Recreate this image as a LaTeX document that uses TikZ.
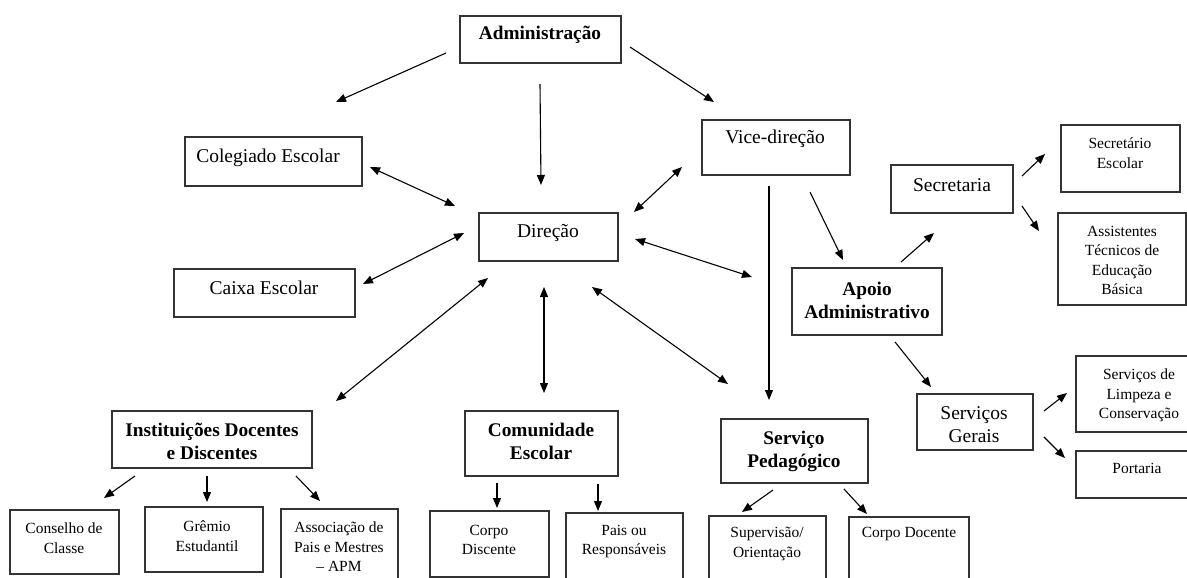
\documentclass[tikz,border=0pt]{standalone}
\usepackage{fontspec}
\setmainfont{Liberation Serif}
\usetikzlibrary{arrows.meta}
\tikzset{
  box/.style={draw=black!80, line width=1.3pt, rectangle, inner sep=0pt, outer sep=0pt, anchor=north west},
  nt/.style={align=center, inner sep=0pt, font=\fontsize{19.5}{23}\selectfont},
  bt/.style={align=center, inner sep=0pt, font=\fontsize{19.3}{23}\selectfont\bfseries},
  st/.style={align=center, inner sep=0pt, font=\fontsize{15.5}{19.5}\selectfont},
  arr/.style={draw=black, line width=1.1pt, -{Triangle[length=10pt,width=8pt]}},
  darr/.style={draw=black, line width=1.1pt, {Triangle[length=10pt,width=8pt]}-{Triangle[length=10pt,width=8pt]}}
}
\newcommand{\mkbox}[5]{\node[box, minimum width={(#4-#2)*1pt}, minimum height={(#5-#3)*1pt}] (#1) at (#2,#3) {};}
\begin{document}
\begin{tikzpicture}[x=1pt,y=-1pt]
\path[use as bounding box, fill=white] (0,0) rectangle (1187,578);
\clip (0,0) rectangle (1187,578);
% boxes
\mkbox{adm}{460}{16}{621}{63}
\mkbox{col}{185}{137}{362}{186}
\mkbox{dir}{479}{213}{618}{261}
\mkbox{cai}{174}{269}{355}{317}
\mkbox{vic}{702}{120}{850}{175}
\mkbox{sec}{891}{165}{1013}{213}
\mkbox{ses}{1061}{125}{1180}{192}
\mkbox{ast}{1058}{213}{1186}{305}
\mkbox{apo}{792}{268}{942}{335}
\mkbox{seg}{917}{394}{1033}{450}
\mkbox{lim}{1076}{356}{1192}{432}
\mkbox{por}{1076}{451}{1192}{498}
\mkbox{spd}{721}{419}{868}{483}
\mkbox{sup}{709}{516}{826}{600}
\mkbox{cdo}{849}{517}{969}{600}
\mkbox{ins}{112}{411}{312}{468}
\mkbox{com}{465}{411}{618}{476}
\mkbox{con}{10}{510}{119}{574}
\mkbox{gre}{145}{507}{263}{572}
\mkbox{apm}{281}{509}{398}{600}
\mkbox{cdi}{430}{511}{549}{577}
\mkbox{pai}{566}{513}{683}{600}
% texts
\node[bt] (adm-t) at (540,35) {Administração};
\node[nt] (col-t) at (268,158) {Colegiado Escolar};
\node[nt] (dir-t) at (548,233) {Direção};
\node[nt] (cai-t) at (264,288) {Caixa Escolar};
\node[nt] (vic-t) at (775,139) {Vice-direção};
\node[nt] (sec-t) at (952,185) {Secretaria};
\node[st] (ses-t) at (1120,153) {Secretário\\Escolar};
\node[st] (ast-t) at (1122,260.5) {Assistentes\\Técnicos de\\Educação\\Básica};
\node[bt] (apo-t) at (867,300) {Apoio\\Administrativo};
\node[nt] (seg-t) at (974,425) {Serviços\\Gerais};
\node[st] (lim-t) at (1139,395.5) {Serviços de\\Limpeza e\\Conservação};
\node[st] (por-t) at (1137,468) {Portaria};
\node[bt] (spd-t) at (794,451.5) {Serviço\\Pedagógico};
\node[st] (sup-t) at (767,544) {Supervisão/\\Orientação};
\node[st] (cdo-t) at (909,534) {Corpo Docente};
\node[bt] (ins-t) at (212,441.5) {Instituições Docentes\\e Discentes};
\node[bt] (com-t) at (541,441.5) {Comunidade\\Escolar};
\node[st] (con-t) at (64,538) {Conselho de\\Classe};
\node[st] (gre-t) at (207,536) {Grêmio\\Estudantil};
\node[st] (apm-t) at (339,547) {Associação de\\Pais e Mestres\\– APM};
\node[st] (cdi-t) at (489,540) {Corpo\\Discente};
\node[st] (pai-t) at (624,541.5) {Pais ou\\Responsáveis};
% connector ends
\coordinate (a1s) at (446,53);  \coordinate (a1e) at (336,102);
\coordinate (a2s) at (540,84);  \coordinate (a2e) at (541,185);
\coordinate (a3s) at (630,47);  \coordinate (a3e) at (714,102);
\coordinate (a4s) at (370,167); \coordinate (a4e) at (455,206);
\coordinate (a5s) at (363,284); \coordinate (a5e) at (464,233);
\coordinate (a6s) at (336,401); \coordinate (a6e) at (488,278);
\coordinate (a7s) at (544,287); \coordinate (a7e) at (544,393);
\coordinate (a8s) at (592,287); \coordinate (a8e) at (728,384);
\coordinate (a9s) at (635,239); \coordinate (a9e) at (752,277);
\coordinate (a10s) at (634,212); \coordinate (a10e) at (682,167);
\coordinate (a11s) at (769,186); \coordinate (a11e) at (769,400);
\coordinate (a12s) at (810,192); \coordinate (a12e) at (843,260);
\coordinate (a13s) at (901,262); \coordinate (a13e) at (934,233);
\coordinate (a14s) at (1022,176); \coordinate (a14e) at (1045,154);
\coordinate (a15s) at (1022,206); \coordinate (a15e) at (1039,231);
\coordinate (a16s) at (895,342); \coordinate (a16e) at (931,387);
\coordinate (a17s) at (1044,411); \coordinate (a17e) at (1067,393);
\coordinate (a18s) at (1044,437); \coordinate (a18e) at (1065,458);
\coordinate (a19s) at (773,490); \coordinate (a19e) at (742,512);
\coordinate (a20s) at (844,489); \coordinate (a20e) at (867,514);
\coordinate (a21s) at (135,476); \coordinate (a21e) at (104,498);
\coordinate (a22s) at (207,476); \coordinate (a22e) at (207,502);
\coordinate (a23s) at (296,476); \coordinate (a23e) at (320,501);
\coordinate (a24s) at (497,483); \coordinate (a24e) at (497,508);
\coordinate (a25s) at (598,484); \coordinate (a25e) at (598,511);
% connectors
\draw[arr] (a1s) -- (a1e);
\draw[arr] (a2s) -- (a2e);
\draw[arr] (a3s) -- (a3e);
\draw[darr] (a4s) -- (a4e);
\draw[darr] (a5s) -- (a5e);
\draw[darr] (a6s) -- (a6e);
\draw[darr] (a7s) -- (a7e);
\draw[darr] (a8s) -- (a8e);
\draw[darr] (a9s) -- (a9e);
\draw[darr] (a10s) -- (a10e);
\draw[arr] (a11s) -- (a11e);
\draw[arr] (a12s) -- (a12e);
\draw[arr] (a13s) -- (a13e);
\draw[arr] (a14s) -- (a14e);
\draw[arr] (a15s) -- (a15e);
\draw[arr] (a16s) -- (a16e);
\draw[arr] (a17s) -- (a17e);
\draw[arr] (a18s) -- (a18e);
\draw[arr] (a19s) -- (a19e);
\draw[arr] (a20s) -- (a20e);
\draw[arr] (a21s) -- (a21e);
\draw[arr] (a22s) -- (a22e);
\draw[arr] (a23s) -- (a23e);
\draw[arr] (a24s) -- (a24e);
\draw[arr] (a25s) -- (a25e);
\end{tikzpicture}
\end{document}
